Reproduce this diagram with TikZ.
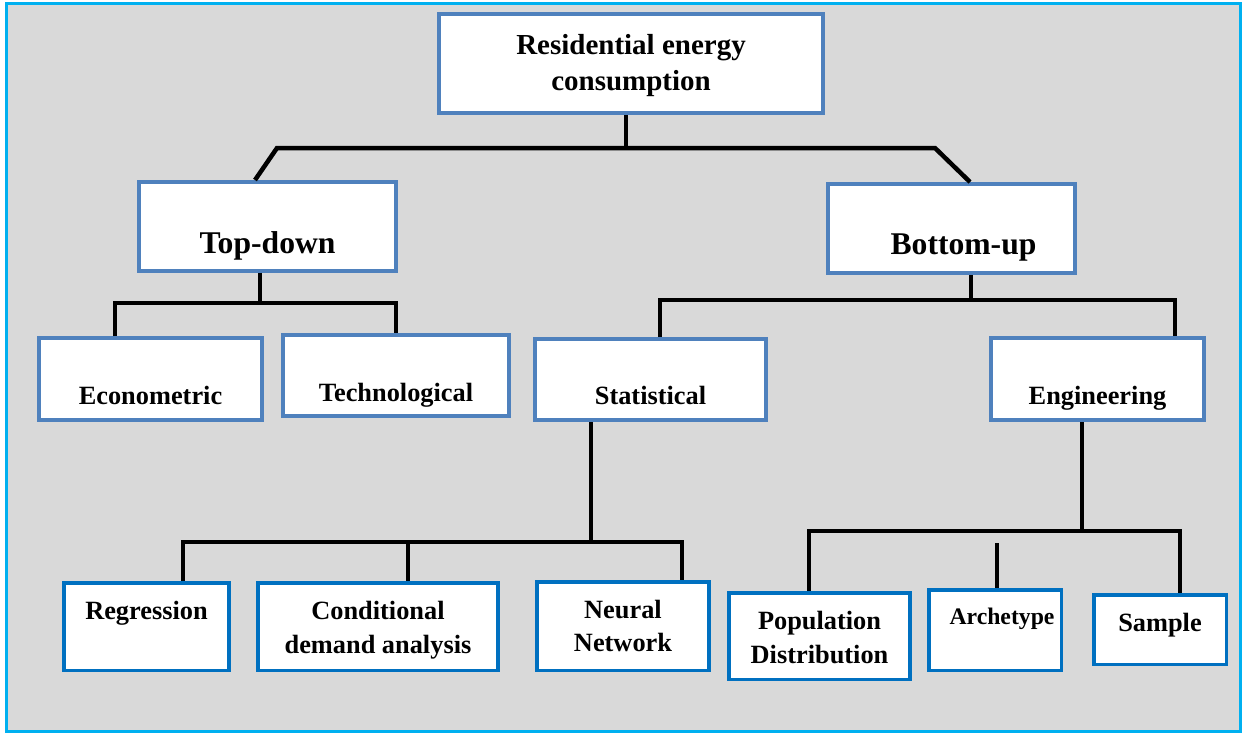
\documentclass[tikz,border=0pt]{standalone}
\usepackage{fontspec}
\setmainfont{Liberation Serif}
\usepackage{tikz}
\usetikzlibrary{positioning}
\usetikzlibrary{calc}
\definecolor{boxblue}{HTML}{4F81BD}
\definecolor{leafblue}{HTML}{0070C0}
\definecolor{frameblue}{HTML}{00B0F0}
\definecolor{panelgray}{HTML}{D9D9D9}
\tikzset{
	box/.style = {rectangle, draw=boxblue, fill=white, line width=0.08cm, inner sep=0pt},
	leaf/.style = {rectangle, draw=leafblue, fill=white, line width=0.07cm, inner sep=0pt},
	txt/.style = {font=\bfseries\fontsize{15}{19.3}\selectfont, align=center, inner sep=0pt},
	big/.style = {txt, font=\bfseries\fontsize{18}{21}\selectfont},
	conn/.style = {line width=0.09cm, black},
}

\begin{document}
\begin{tikzpicture}[x=0.02cm, y=-0.02cm]
	\useasboundingbox (0,0) rectangle (1243,734);
	\draw[frameblue, line width=0.06cm, fill=panelgray] (6.5,3.5) rectangle (1240,731);

	\node (root) [box, minimum width=7.68cm, minimum height=1.98cm,
		label={[txt, font=\bfseries\fontsize{16.5}{20.6}\selectfont, yshift=-0.04cm]center:{Residential energy\\consumption}}] at (631,63.5) {};
	\node (td) [box, minimum width=5.14cm, minimum height=1.78cm,
		label={[big, yshift=-0.39cm]center:Top-down}] at (267.5,226.5) {};
	\node (bu) [box, minimum width=4.94cm, minimum height=1.78cm,
		label={[big, yshift=-0.39cm, xshift=0.24cm]center:Bottom-up}] at (951.5,228.5) {};

	\node (econ) [box, minimum width=4.46cm, minimum height=1.64cm,
		label={[txt, yshift=-0.32cm]center:Econometric}] at (150.5,379) {};
	\node (tech) [box, minimum width=4.52cm, minimum height=1.62cm,
		label={[txt, yshift=-0.39cm]center:Technological}] at (396,375.5) {};
	\node (stat) [box, minimum width=4.62cm, minimum height=1.62cm,
		label={[txt, yshift=-0.31cm]center:Statistical}] at (650.5,379.5) {};
	\node (eng) [box, minimum width=4.26cm, minimum height=1.64cm,
		label={[txt, yshift=-0.38cm]center:Engineering}] at (1097.5,379) {};

	\node (reg) [leaf, minimum width=3.31cm, minimum height=1.75cm,
		label={[txt, yshift=0.27cm]center:Regression}] at (146.5,626.5) {};
	\node (cda) [leaf, minimum width=4.81cm, minimum height=1.75cm,
		label={[txt, yshift=-0.08cm]center:{Conditional\\demand analysis}}] at (378,626.5) {};
	\node (nn) [leaf, minimum width=3.45cm, minimum height=1.77cm,
		label={[txt]center:{Neural\\Network}}] at (623,626) {};
	\node (pop) [leaf, minimum width=3.63cm, minimum height=1.73cm,
		label={[txt, yshift=-0.03cm]center:{Population\\Distribution}}] at (819.5,636) {};
	\node (arch) [leaf, minimum width=2.65cm, minimum height=1.61cm,
		label={[txt, font=\bfseries\fontsize{13.5}{16}\selectfont, yshift=0.22cm, xshift=0.14cm]center:Archetype}] at (995,630) {};
	\node (sam) [leaf, minimum width=2.65cm, minimum height=1.39cm,
		label={[txt, yshift=0.09cm]center:Sample}] at (1160,629.5) {};

	\coordinate (rj) at (626,148);
	\coordinate (rl) at (277,148);
	\coordinate (rr) at (935,148);
	\draw[conn] (rj |- root.south) -- (rj);
	\draw[conn] ([xshift=-0.25cm]td.north) -- (rl) -- (rr) -- ([xshift=0.37cm]bu.north);

	\coordinate (tdj) at (260,303);
	\coordinate (econd) at (115,303);
	\coordinate (techd) at (396,303);
	\draw[conn] (tdj |- td.south) -- (tdj);
	\draw[conn] (econd |- econ.north) -- (econd) -- (techd) -- (techd |- tech.north);

	\coordinate (buj) at (971,300);
	\coordinate (statd) at (660,300);
	\coordinate (engd) at (1175,300);
	\draw[conn] (buj |- bu.south) -- (buj);
	\draw[conn] (statd |- stat.north) -- (statd) -- (engd) -- (engd |- eng.north);

	\coordinate (stj) at (591,542);
	\coordinate (regd) at (183,542);
	\coordinate (cdad) at (408,542);
	\coordinate (nnd) at (682,542);
	\draw[conn] (stj |- stat.south) -- (stj);
	\draw[conn] (regd |- reg.north) -- (regd) -- (nnd) -- (nnd |- nn.north);
	\draw[conn] (cdad) -- (cdad |- cda.north);

	\coordinate (enj) at (1082,531);
	\coordinate (popd) at (809,531);
	\coordinate (samd) at (1180,531);
	\coordinate (archt) at (997,543);
	\draw[conn] (enj |- eng.south) -- (enj);
	\draw[conn] (popd |- pop.north) -- (popd) -- (samd) -- (samd |- sam.north);
	\draw[conn] (archt) -- (archt |- arch.north);
\end{tikzpicture}
\end{document}
